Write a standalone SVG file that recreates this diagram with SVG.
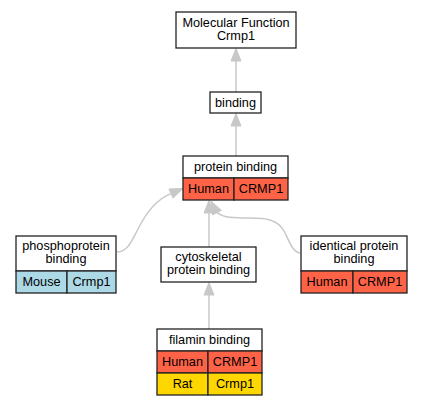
<svg xmlns="http://www.w3.org/2000/svg" width="421" height="405" viewBox="0 0 421 405">
<style>
.box{fill:#fff;stroke:#222;stroke-width:1.3}
.human{fill:#ff6347;stroke:#222;stroke-width:1.3}
.mouse{fill:#add8e6;stroke:#222;stroke-width:1.3}
.rat{fill:#ffd700;stroke:#222;stroke-width:1.3}
text{font-family:"Liberation Sans",Arial,sans-serif;font-size:12.7px;fill:#000;text-anchor:middle}
.edge{fill:none;stroke:#c8c8c8;stroke-width:1.5}
.head{fill:#c8c8c8;stroke:#c8c8c8;stroke-width:1}
</style>
<rect width="421" height="405" fill="#fff"/>
<g id="connectors">
<path class="edge" d="M236,92 L236,61"/>
<polygon class="head" points="236,48.5 231,61 241,61"/>
<path class="edge" d="M236,156 L236,126"/>
<polygon class="head" points="236,113.5 231,126 241,126"/>
<path class="edge" d="M209,329 L209,295"/>
<polygon class="head" points="209,282.5 204,295 214,295"/>
<path class="edge" d="M209,247 L209,213"/>
<polygon class="head" points="209,200.5 204,213 214,213"/>
<path class="edge" d="M117,252 C128,252 132,240 138,229 C146,213 157,199 171,193.6"/>
<polygon class="head" points="183,188.5 173,198.2 169,189"/>
<path class="edge" d="M300,253 C292,252 289,240 284,231 C277,219 265,218 250,218 C234,218 224,218 217,212.6"/>
<polygon class="head" points="211,201 221.3,210.4 212.4,214.9"/>
</g>
<g id="mf">
<rect class="box" x="176" y="12" width="120" height="36"/>
<text x="236" y="27">Molecular Function</text>
<text x="236" y="40">Crmp1</text>
</g>
<g id="binding">
<rect class="box" x="210" y="92" width="51" height="21"/>
<text x="235.5" y="107">binding</text>
</g>
<g id="protein_binding">
<rect class="box" x="183" y="156" width="105" height="22"/>
<text x="235.5" y="171">protein binding</text>
<rect class="human" x="183" y="178" width="51" height="22"/>
<rect class="human" x="234" y="178" width="54" height="22"/>
<text x="208.5" y="193">Human</text>
<text x="261" y="193">CRMP1</text>
</g>
<g id="phosphoprotein_binding">
<rect class="box" x="16" y="236" width="100" height="35"/>
<text x="66" y="250">phosphoprotein</text>
<text x="66" y="263">binding</text>
<rect class="mouse" x="16" y="271" width="51" height="22"/>
<rect class="mouse" x="67" y="271" width="49" height="22"/>
<text x="41.5" y="286">Mouse</text>
<text x="91.5" y="286">Crmp1</text>
</g>
<g id="cytoskeletal_protein_binding">
<rect class="box" x="161" y="247" width="95" height="35"/>
<text x="208.5" y="261">cytoskeletal</text>
<text x="208.5" y="274">protein binding</text>
</g>
<g id="identical_protein_binding">
<rect class="box" x="301" y="236" width="106" height="35"/>
<text x="354" y="250">identical protein</text>
<text x="354" y="263">binding</text>
<rect class="human" x="301" y="271" width="52" height="22"/>
<rect class="human" x="353" y="271" width="54" height="22"/>
<text x="327" y="286">Human</text>
<text x="380" y="286">CRMP1</text>
</g>
<g id="filamin_binding">
<rect class="box" x="157" y="329" width="105" height="22"/>
<text x="209.5" y="344">filamin binding</text>
<rect class="human" x="157" y="351" width="51" height="22"/>
<rect class="human" x="208" y="351" width="54" height="22"/>
<text x="182.5" y="366">Human</text>
<text x="235" y="366">CRMP1</text>
<rect class="rat" x="157" y="373" width="51" height="22"/>
<rect class="rat" x="208" y="373" width="54" height="22"/>
<text x="182.5" y="388">Rat</text>
<text x="235" y="388">Crmp1</text>
</g>
</svg>
